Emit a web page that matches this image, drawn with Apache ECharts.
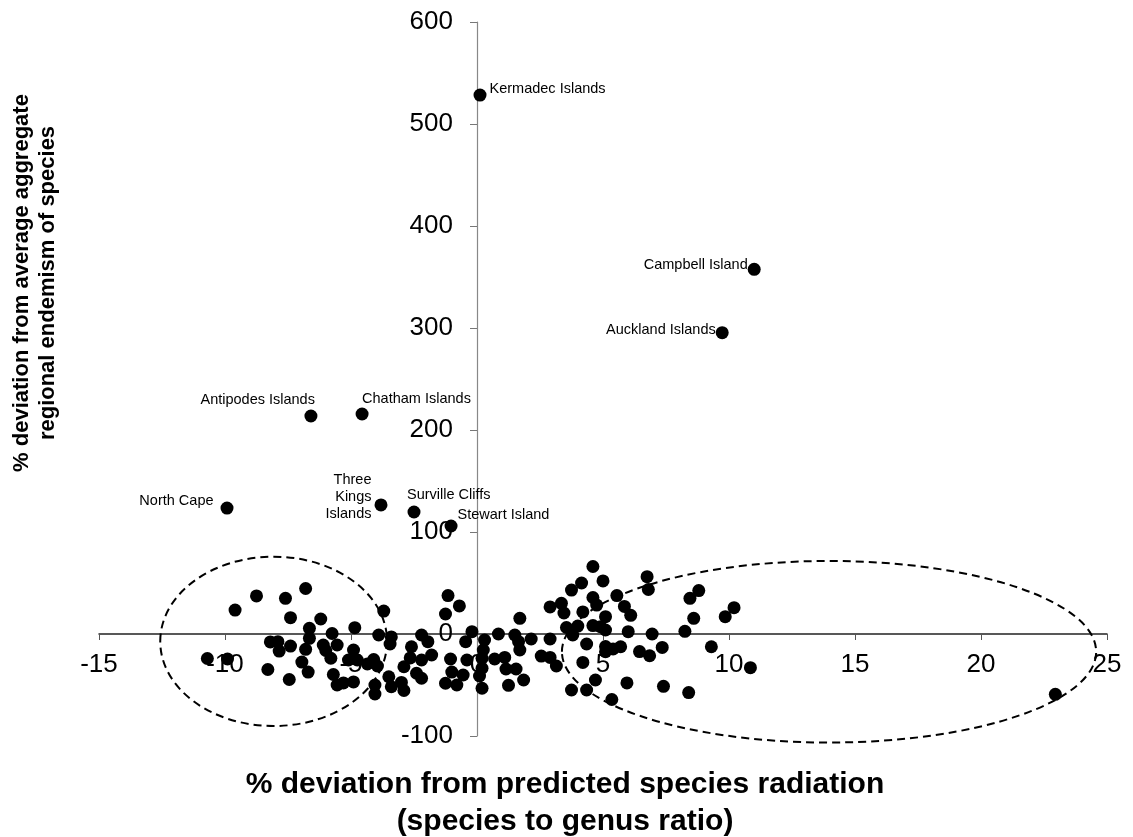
<!DOCTYPE html>
<html>
<head>
<meta charset="utf-8">
<title>Species radiation vs endemism</title>
<script src="https://cdn.jsdelivr.net/npm/echarts@6/dist/echarts.min.js"></script>
<style>
  html, body { margin: 0; padding: 0; background: #fff; }
  #chart { width: 1133px; height: 837px; }
</style>
</head>
<body>
<div id="chart"></div>
<script>
// axis ranges / ticks
var xMin = -15, xMax = 25, xStep = 5
var yMin = -100, yMax = 600, yStep = 100

// unlabelled localities (% deviation radiation, % deviation endemism)
var clusterX = [
  -10.7, -9.9, -9.6, -8.75, -8.3, -8.2, -7.9, -7.85, -7.6, -7.45, -7.4, -7.4,
  -6.95, -6.8, -6.8, -6.7, -6.65, -6.65, -6.2, -6.1, -6.0, -5.8, -5.75, -5.7,
  -5.55, -5.55, -5.3, -4.9, -5.1, -4.9, -4.85, -4.75, -4.35, -4.1, -3.95, -4.05,
  -4.05, -3.9, -3.7, -3.4, -3.45, -3.5, -3.4, -3.0, -2.9, -2.9, -2.65, -2.6,
  -2.4, -2.2, -2.2, -1.95, -1.8, -2.2, -1.15, -0.7, -1.25, -0.2, -0.45, -0.4,
  -1.05, -1.0, -0.55, -1.25, -0.8, 0.2, 0.3, 0.2, 0.2, 0.25, 0.1, 0.85,
  0.7, 1.1, 1.15, 1.25, 1.5, 1.65, 1.7, 1.7, 1.55, 1.85, 2.15, 2.55,
  2.9, 2.9, 3.15, 2.9, 3.35, 3.45, 3.75, 4.15, 4.6, 5.0, 4.6, 4.75,
  4.2, 5.1, 5.55, 5.85, 6.1, 6.75, 6.8, 3.55, 4.0, 3.8, 4.6, 4.9,
  5.1, 6.0, 6.95, 8.25, 4.35, 5.1, 5.1, 5.4, 5.7, 6.45, 6.85, 7.35,
  4.2, 4.7, 3.75, 4.35, 5.35, 5.95, 7.4, 8.4, 8.45, 8.8, 8.6, 9.3,
  9.85, 10.2, 10.85, 22.95
]
var clusterY = [
  -24, -24.5, 23.5, 37.3, -34.8, -7.8, -7.5, -16.7, 35, -44.6, -11.8, 16,
  -27.5, -15, 44.6, -37.3, 5.6, -4.2, 14.7, -10.8, -16.2, -23.8, 0.5, -39.7,
  -10.8, -50, -48, -47, -25.5, -15.7, 6.2, -25.5, -29.4, -25, -31.4, -50,
  -58.8, -1, 22.5, -2.9, -9.8, -41.9, -51.7, -47.5, -55.4, -32.1, -23.5, -12.5,
  -38.5, -43.4, -1, -7.5, -20.6, -25.5, 37.7, 27.5, 19.6, 2.3, -7.5, -25.5,
  -24.5, -37.3, -40.2, -48.3, -50, -23.8, -5.9, -33.6, -53.2, -15.7, -41.2, 0,
  -24.5, -23, -34.3, -50.3, -1, -7.5, 15.4, -15.7, -34.3, -45.1, -4.9, -21.6,
  -4.9, -23, -31.4, 26.5, 30.1, 20.6, 43.1, 50, 66.2, 52, 35.8, 28.4,
  21.6, 17, 37.7, 27, 18.3, 56.2, 43.6, 6.4, 7.8, -1, 8.3, 7.2,
  3.9, 2.3, 0, 2.6, -9.8, -12.3, -17.4, -14.7, -12.5, -17.2, -21.3, -13.2,
  -27.9, -45.1, -54.9, -54.9, -64.2, -48, -51.3, -57.4, 35, 42.6, 15.4, -12.5,
  17, 25.8, -33, -59.1
]

// named localities
var siteNames = [
  'Kermadec Islands', 'Campbell Island', 'Auckland Islands', 'Antipodes Islands',
  'Chatham Islands', 'North Cape', 'Three\nKings\nIslands', 'Surville Cliffs', 'Stewart Island'
]
var siteX = [0.12, 11.0, 9.73, -6.59, -4.56, -9.92, -3.81, -2.5, -1.03]
var siteY = [528.4, 357.5, 295.4, 213.7, 215.7, 123.5, 126.5, 119.6, 105.9]

// dashed ellipses: centre and half-axes in data units
var ellipseCx = [-8.07, 13.97]
var ellipseCy = [-7.2, -17.4]
var ellipseRx = [4.5, 10.6]
var ellipseRy = [83, 89]

var xTitle = '% deviation from predicted species radiation\n(species to genus ratio)'
var yTitle = '% deviation from average aggregate\nregional endemism of species'

var font = '"Liberation Sans", Arial, sans-serif'

// plot area in px
var gridLeft = 99, gridRight = 26, gridTop = 22, gridBottom = 101
var gridW = 1133 - gridLeft - gridRight
var gridH = 837 - gridTop - gridBottom
// the axes cross at 0, so shift them in from the grid edges
var xAxisShift = -gridH * (0 - yMin) / (yMax - yMin)
var yAxisShift = -gridW * (0 - xMin) / (xMax - xMin)

// label placement per named point
var labelPlace = {
  'Kermadec Islands': { position: 'right', distance: 3, offset: [0, -6] },
  'Campbell Island': { position: 'left', distance: 0, offset: [0, -4] },
  'Auckland Islands': { position: 'left', distance: 0, offset: [0, -3] },
  'Antipodes Islands': { position: 'top', align: 'right', distance: 2, offset: [4, 0] },
  'Chatham Islands': { position: 'top', align: 'left', distance: 1, offset: [0, 0] },
  'North Cape': { position: 'left', distance: 7, offset: [0, -7] },
  'Three\nKings\nIslands': { position: 'left', align: 'right', distance: 3, offset: [0, -8], lineHeight: 16.7 },
  'Surville Cliffs': { position: 'top', align: 'left', distance: 3, offset: [-7, 0] },
  'Stewart Island': { position: 'right', distance: 0, offset: [0, -11] }
}

var clusterData = clusterX.map(function (x, i) { return [x, clusterY[i]] })
var siteData = siteNames.map(function (name, i) {
  var lab = Object.assign({ show: true }, labelPlace[name])
  return { name: name, value: [siteX[i], siteY[i]], label: lab }
})
var ellipseData = ellipseCx.map(function (cx, i) {
  return [cx, ellipseCy[i], ellipseRx[i], ellipseRy[i]]
})

var myChart = echarts.init(document.getElementById('chart'))
var option = {
  backgroundColor: '#fff',
  animation: false,
  grid: {
    left: gridLeft,
    right: gridRight,
    top: gridTop,
    bottom: gridBottom,
    containLabel: false
  },
  xAxis: {
    type: 'value',
    min: xMin,
    max: xMax,
    interval: xStep,
    offset: xAxisShift,
    splitLine: { show: false },
    axisLine: {
      show: true,
      onZero: false,
      lineStyle: { color: '#222', width: 1.5 }
    },
    axisTick: {
      show: true,
      length: 6,
      lineStyle: { color: '#555' }
    },
    axisLabel: {
      fontSize: 26,
      fontFamily: font,
      color: '#000',
      margin: 18
    }
  },
  yAxis: {
    type: 'value',
    min: yMin,
    max: yMax,
    interval: yStep,
    offset: yAxisShift,
    splitLine: { show: false },
    axisLine: {
      show: true,
      onZero: false,
      lineStyle: { color: '#888', width: 1.2 }
    },
    axisTick: {
      show: true,
      length: 7,
      lineStyle: { color: '#777' }
    },
    axisLabel: {
      fontSize: 26,
      fontFamily: font,
      color: '#000',
      margin: 24
    }
  },
  graphic: [
    {
      type: 'text',
      x: 565,
      y: 803,
      style: {
        text: xTitle,
        fontSize: 30,
        fontWeight: 'bold',
        fontFamily: font,
        fill: '#000',
        align: 'center',
        verticalAlign: 'middle',
        lineHeight: 37
      }
    },
    {
      type: 'text',
      x: 35,
      y: 283,
      rotation: Math.PI / 2,
      style: {
        text: yTitle,
        fontSize: 22,
        fontWeight: 'bold',
        fontFamily: font,
        fill: '#000',
        align: 'center',
        verticalAlign: 'middle',
        lineHeight: 26
      }
    }
  ],
  series: [
    {
      name: 'groups',
      type: 'custom',
      silent: true,
      z: 1,
      renderItem: function (params, api) {
        var c = api.coord([api.value(0), api.value(1)])
        var s = api.size([api.value(2), api.value(3)])
        return {
          type: 'ellipse',
          shape: { cx: c[0], cy: c[1], rx: s[0], ry: s[1] },
          style: { fill: 'none', stroke: '#000', lineWidth: 2, lineDash: [8, 5] }
        }
      },
      data: ellipseData
    },
    {
      name: 'localities',
      type: 'scatter',
      z: 3,
      symbolSize: 13,
      itemStyle: { color: '#000', opacity: 1 },
      data: clusterData
    },
    {
      name: 'named',
      type: 'scatter',
      z: 3,
      symbolSize: 13,
      itemStyle: { color: '#000', opacity: 1 },
      label: {
        formatter: '{b}',
        fontSize: 14.5,
        fontFamily: font,
        color: '#000'
      },
      data: siteData
    }
  ]
}

option && myChart.setOption(option)
</script>
</body>
</html>
